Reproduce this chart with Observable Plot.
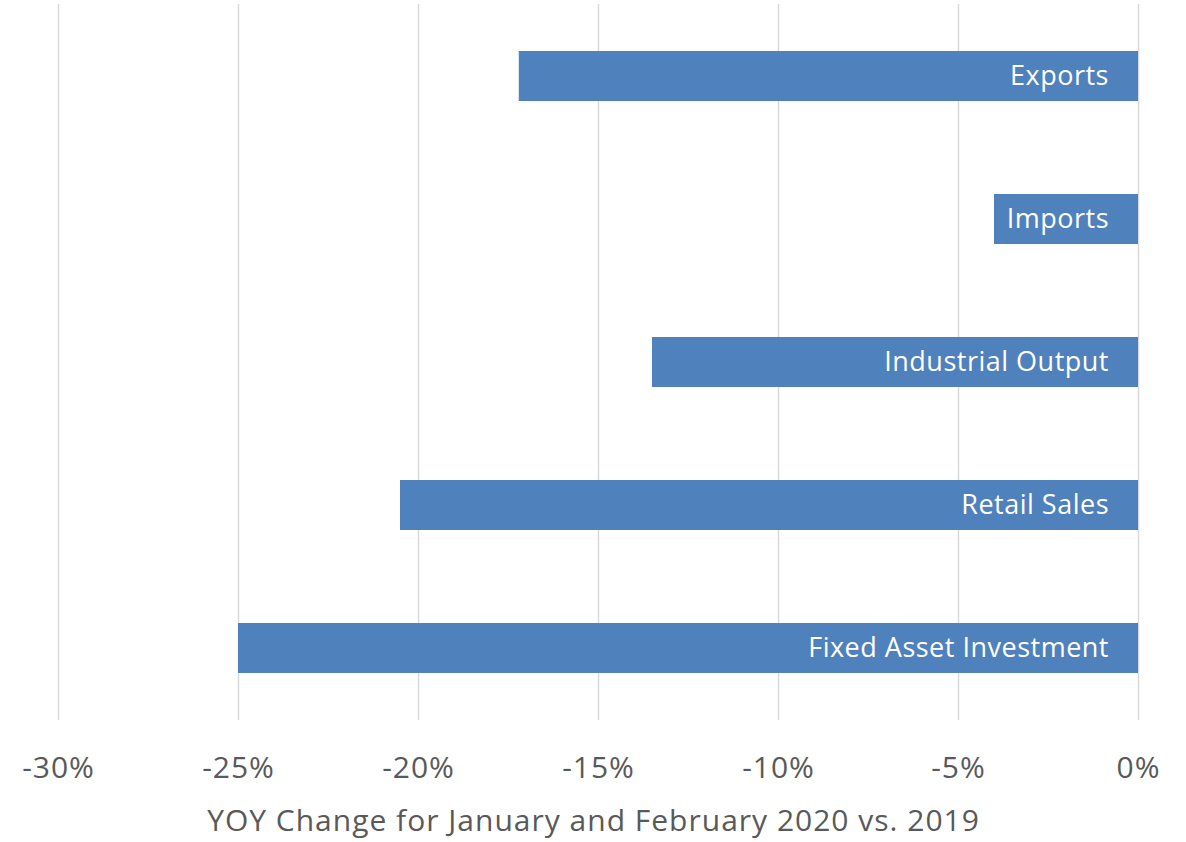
<!DOCTYPE html>
<html>
<head>
<meta charset="utf-8">
<script src="https://cdn.jsdelivr.net/npm/d3@7"></script>
<script src="https://cdn.jsdelivr.net/npm/@observablehq/plot@0.6"></script>
<style>
  html, body { margin: 0; padding: 0; background: #fff; }
  #chart svg { display: block; }
</style>
</head>
<body>
<div id="chart"></div>
<script>
const categories = ["Exports", "Imports", "Industrial Output", "Retail Sales", "Fixed Asset Investment"];
const values = [-0.172, -0.040, -0.135, -0.205, -0.250];
const xTicks = [-0.30, -0.25, -0.20, -0.15, -0.10, -0.05, 0];
const axisTitle = "YOY Change for January and February 2020 vs. 2019";

const data = categories.map((c, i) => ({category: c, value: values[i]}));
const textColor = "#595959";
const font = "'Open Sans', sans-serif";

const chart = Plot.plot({
  width: 1186,
  height: 842,
  marginTop: 4,
  marginBottom: 122,
  marginLeft: 58,
  marginRight: 48,
  style: {fontFamily: font, background: "#fff"},
  x: {domain: [-0.30, 0], ticks: xTicks},
  y: {domain: categories, paddingInner: 0.648, paddingOuter: 0.32, axis: null},
  marks: [
    Plot.ruleX(xTicks, {stroke: "#d9d9d9", strokeWidth: 1.5, strokeOpacity: 1}),
    Plot.barX(data, {x1: 0, x2: "value", y: "category", fill: "#4f81bd"}),
    Plot.text(data, {x: 0, y: "category", text: "category", textAnchor: "end", dx: -29.5, fill: "#ffffff", fontSize: 27}),
    Plot.axisX({ticks: xTicks, tickSize: 0, tickPadding: 36, fontSize: 30, fill: textColor, tickFormat: d => `${Math.round(d * 100)}%`, label: null}),
    Plot.text([axisTitle], {frameAnchor: "bottom", dy: 110, dx: -5, fontSize: 30, fill: textColor})
  ]
});
const textGroups = chart.querySelectorAll("g[aria-label='text']");
if (textGroups[0]) textGroups[0].style.letterSpacing = "0.5px";
if (textGroups[1]) textGroups[1].style.letterSpacing = "1px";
const tickGroup = chart.querySelector("g[aria-label='x-axis tick label']");
if (tickGroup) tickGroup.style.letterSpacing = "1px";
document.getElementById("chart").append(chart);
</script>
</body>
</html>
